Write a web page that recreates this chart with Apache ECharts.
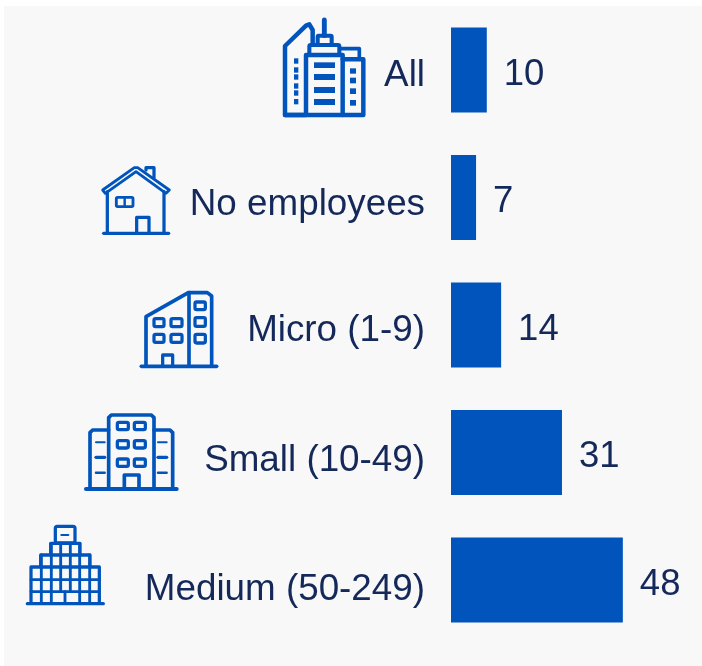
<!DOCTYPE html>
<html><head><meta charset="utf-8">
<style>html,body{margin:0;padding:0;background:#fff}#c{width:702px;height:666px}</style>
<script src="https://cdn.jsdelivr.net/npm/echarts@6/dist/echarts.min.js"></script>
</head><body><div id="c"></div>
<script>
var categories = ['All','No employees','Micro (1-9)','Small (10-49)','Medium (50-249)'];
var values = [10,7,14,31,48];
var BLUE='#0054BB', TEXT='#14285A';
var K=1.22;

function line(points,w,closed){return {type:closed?'polygon':'polyline',shape:{points:points},style:{stroke:BLUE,fill:null,lineWidth:w*K,lineJoin:'round',lineCap:'round'}};}
function box(x,y,w,h,lw,r){return {type:'rect',shape:{x:x,y:y,width:w,height:h,r:r||0},style:{stroke:BLUE,fill:null,lineWidth:lw*K}};}
function fillBox(x,y,w,h){return {type:'rect',shape:{x:x,y:y,width:w,height:h},style:{fill:BLUE}};}
function icon(ox,oy,children){return {type:'group',x:ox,y:oy,scaleX:1/3,scaleY:1/3,children:children};}

var iconAll=[
 line([[105,315],[45,315],[45,108],[108,47],[118,43],[128,60],[128,98]],11),
 line([[108,315],[108,135],[218,135],[218,315]],11),
 line([[45,315],[280,315],[280,148],[218,148]],11),
 box(118,105,90,30,10,4), box(143,77,42,28,10,3),
 line([[163,30],[163,77]],12),
 line([[210,116],[268,116],[268,148]],9),
 fillBox(132,157,63,17),fillBox(132,192,63,18),fillBox(132,231,63,18),fillBox(132,267,63,18),
 fillBox(72,145,13,16),fillBox(72,172,13,16),fillBox(72,193,13,16),fillBox(72,220,13,16),fillBox(72,241,13,16),fillBox(72,267,13,16),
 fillBox(240,175,18,16),fillBox(240,203,18,17),fillBox(240,235,18,17),fillBox(240,270,18,17)
];
var iconHouse=[
 line([[38,105],[133,38],[143,38],[238,105],[228,115],[138,50],[46,115]],7,true),
 line([[168,45],[168,38],[192,38],[192,68]],8),
 line([[52,110],[52,235]],8), line([[222,110],[222,235]],8),
 line([[41,235],[236,235]],8),
 box(79,127,50,28,7,4), line([[104,127],[104,155]],6),
 line([[140,235],[140,187],[177,187],[177,235]],8)
];
var iconMicro=[
 line([[168,632],[168,485],[295,413],[352,413],[365,423],[365,632]],9),
 line([[297,413],[297,632]],9),
 line([[154,634],[380,634]],9),
 box(192,491,30,24,8,5),box(243,491,33,24,8,5),box(192,538,30,24,8,5),box(243,538,33,24,8,5),
 box(315,441,31,23,8,5),box(315,488,31,26,8,5),box(315,538,31,26,8,5),
 line([[218,632],[218,600],[248,600],[248,632]],8)
];
var iconSmall=[
 line([[296,250],[296,38],[304,30],[424,30],[432,38],[432,250]],9),
 line([[296,75],[248,75],[240,83],[240,250]],9),
 line([[432,75],[480,75],[488,83],[488,250]],9),
 line([[228,252],[500,252]],10),
 box(322,52,33,22,8,5),box(373,52,33,22,8,5),box(322,107,33,22,8,5),box(373,107,33,22,8,5),box(322,162,33,22,8,5),box(373,162,33,22,8,5),
 line([[258,112],[284,112]],5),line([[258,157],[284,157]],8),line([[258,203],[284,203]],6),
 line([[444,112],[470,112]],5),line([[444,157],[470,157]],8),line([[444,203],[470,203]],6),
 line([[343,250],[343,210],[387,210],[387,250]],9)
];
var iconMedium=[
 box(136,364,59,50,8,6), line([[154,390],[175,390]],5),
 line([[122,448],[122,415],[210,415],[210,448]],8),
 line([[92,486],[92,450],[240,450],[240,486]],8),
 line([[63,595],[63,486],[268,486],[268,595]],8),
 line([[63,524],[268,524]],7), line([[63,560],[268,560]],7),
 line([[94,450],[94,595]],7),line([[124,415],[124,595]],7),line([[152,415],[152,560]],7),line([[181,415],[181,560]],7),
 line([[209,415],[209,595]],7),line([[239,450],[239,595]],7),
 line([[165,560],[165,595]],7),
 line([[52,596],[280,596]],8)
];

function labelStyle(pad){return {fontFamily:'Liberation Sans',fontSize:36.8,color:TEXT,padding:[pad,0,0,0]};}
var richKeys=['a','b','c','d','e'];

var chart=echarts.init(document.getElementById('c'),null,{renderer:'canvas'});
chart.setOption({
 animation:false,
 backgroundColor:'#fff',
 graphic:{elements:[
  {type:'rect',z:-10,silent:true,shape:{x:4,y:6,width:698,height:660},style:{fill:'#F8F8F8'}},
  icon(270,10,iconAll),
  icon(90,155,iconHouse),
  icon(90,155,iconMicro),
  icon(10,405,iconSmall),
  icon(10,405,iconMedium)
 ]},
 grid:{left:451,top:6.25,width:214.8,height:637.5,containLabel:false},
 xAxis:{type:'value',min:0,max:60,show:false},
 yAxis:{type:'category',inverse:true,data:categories,
  axisLine:{show:false},axisTick:{show:false},
  axisLabel:{fontFamily:'Liberation Sans',fontSize:36.8,color:TEXT,margin:26,interval:0,
   formatter:function(v,i){return '{'+richKeys[i]+'|'+v+'}';},
   rich:{a:labelStyle(12),b:labelStyle(14),c:labelStyle(12),d:labelStyle(16),e:labelStyle(20)}}},
 series:[{type:'bar',data:values,barWidth:85,itemStyle:{color:BLUE},
  label:{show:true,position:'right',distance:17,offset:[0,4.5],fontFamily:'Liberation Sans',fontSize:36.5,color:TEXT}}]
});
</script></body></html>
